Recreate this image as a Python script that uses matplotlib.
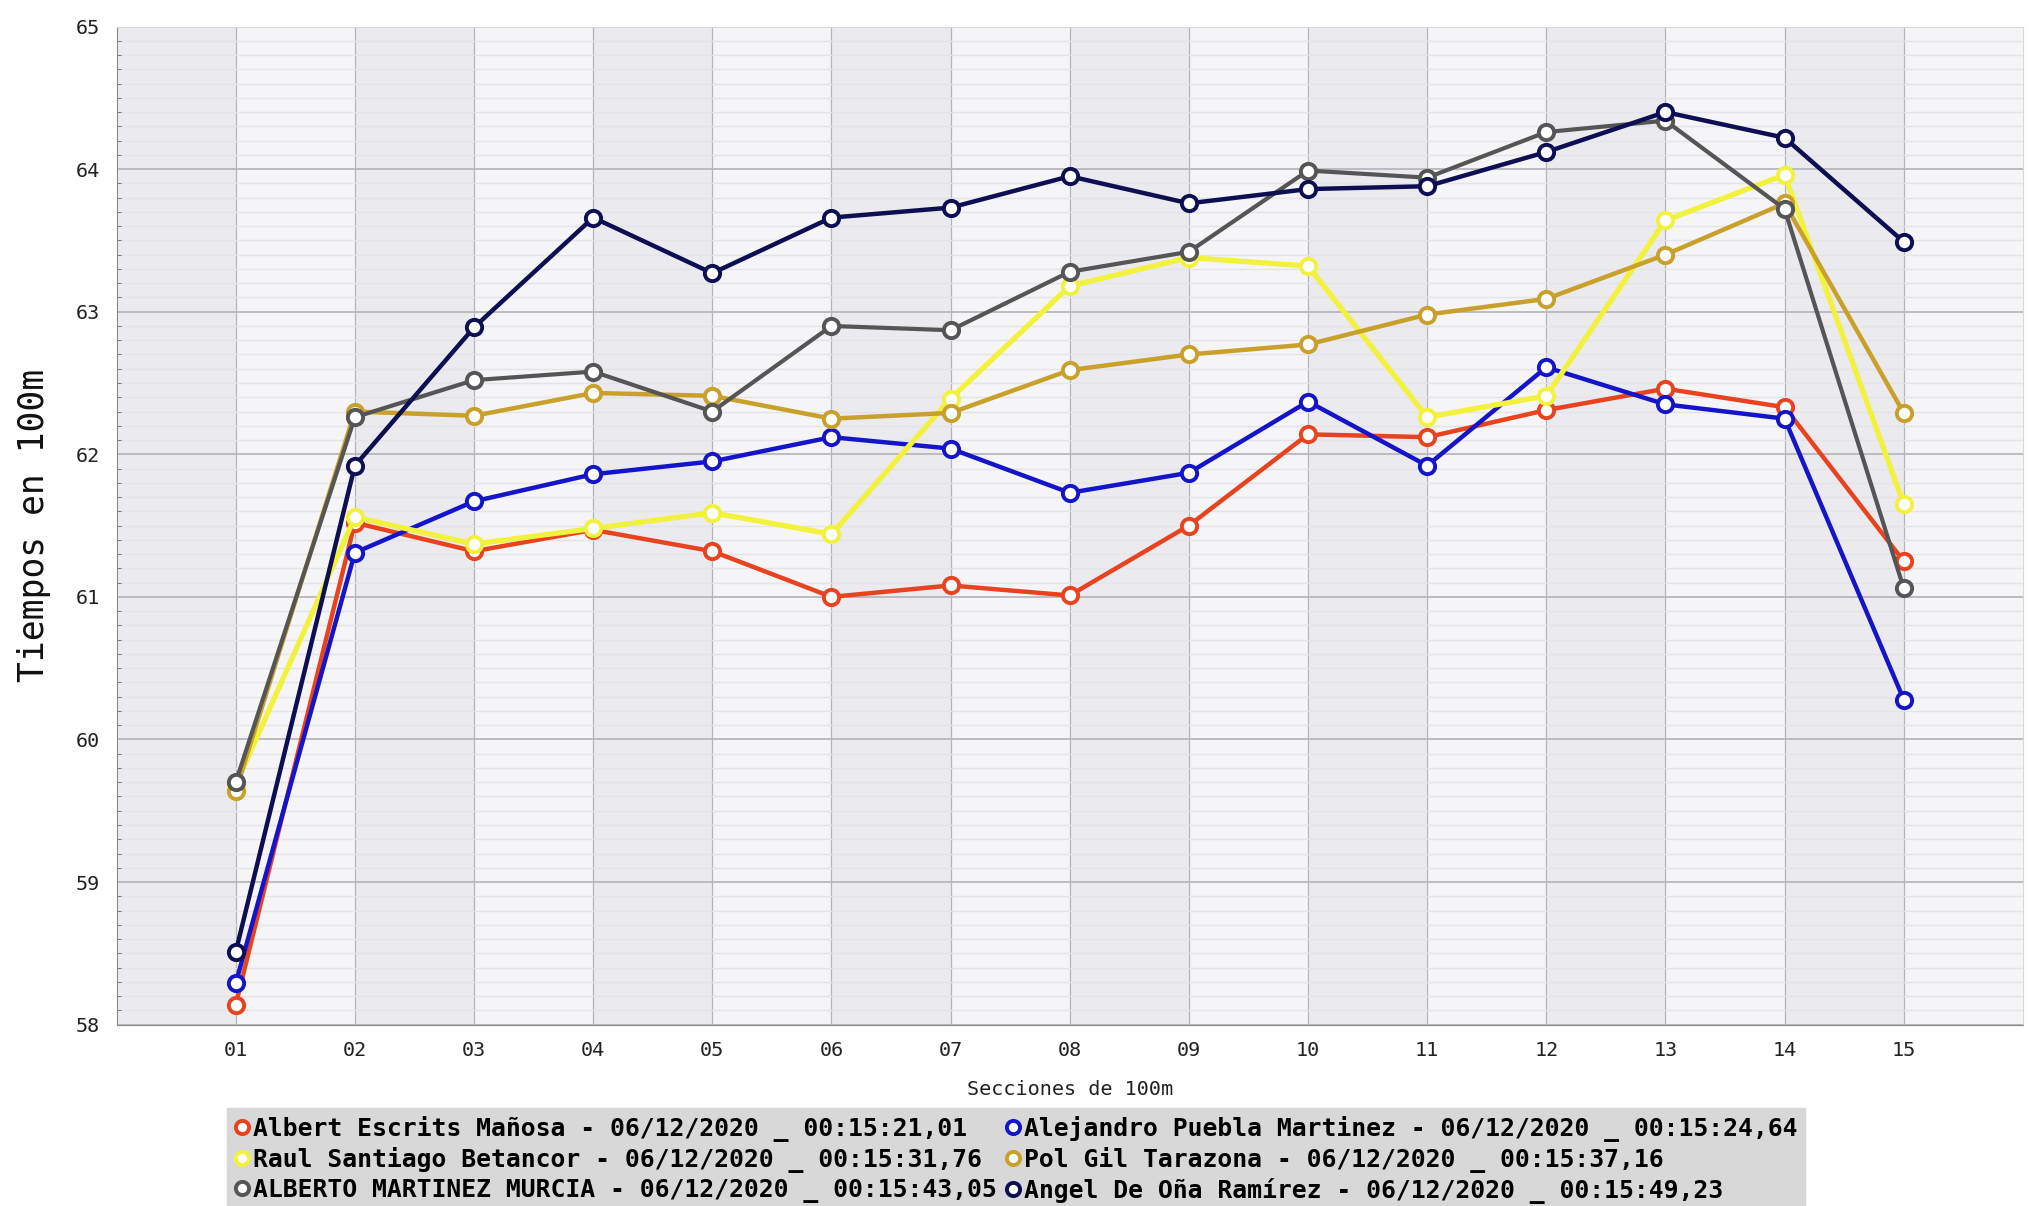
import matplotlib
matplotlib.use("Agg")
import matplotlib.pyplot as plt
from matplotlib.ticker import MultipleLocator
from matplotlib.lines import Line2D
import numpy as np

sections = ["01", "02", "03", "04", "05", "06", "07", "08", "09", "10", "11", "12", "13", "14", "15"]

albert = [58.14, 61.52, 61.32, 61.47, 61.32, 61.00, 61.08, 61.01, 61.50, 62.14, 62.12, 62.31, 62.46, 62.33, 61.25]
alejandro = [58.29, 61.31, 61.67, 61.86, 61.95, 62.12, 62.04, 61.73, 61.87, 62.37, 61.92, 62.61, 62.35, 62.25, 60.28]
raul = [59.68, 61.56, 61.37, 61.48, 61.59, 61.44, 62.39, 63.18, 63.38, 63.32, 62.26, 62.41, 63.64, 63.96, 61.65]
pol = [59.64, 62.30, 62.27, 62.43, 62.41, 62.25, 62.29, 62.59, 62.70, 62.77, 62.98, 63.09, 63.40, 63.76, 62.29]
alberto = [59.70, 62.26, 62.52, 62.58, 62.30, 62.90, 62.87, 63.28, 63.42, 63.99, 63.94, 64.26, 64.34, 63.72, 61.06]
angel = [58.51, 61.92, 62.89, 63.66, 63.27, 63.66, 63.73, 63.95, 63.76, 63.86, 63.88, 64.12, 64.40, 64.22, 63.49]

labels = [
    "Albert Escrits Mañosa - 06/12/2020 _ 00:15:21,01",
    "Alejandro Puebla Martinez - 06/12/2020 _ 00:15:24,64",
    "Raul Santiago Betancor - 06/12/2020 _ 00:15:31,76",
    "Pol Gil Tarazona - 06/12/2020 _ 00:15:37,16",
    "ALBERTO MARTINEZ MURCIA - 06/12/2020 _ 00:15:43,05",
    "Angel De Oña Ramírez - 06/12/2020 _ 00:15:49,23",
]
colors = ["#e8421e", "#1414c8", "#f2f23c", "#c8a02a", "#555555", "#0e0e52"]
widths = [3.2, 3.2, 3.8, 3.2, 3.0, 3.2]
series = [albert, alejandro, raul, pol, alberto, angel]

mono = "DejaVu Sans Mono"

fig = plt.figure(figsize=(20.31, 12.06), dpi=100)
ax = fig.add_axes([0.0574, 0.1504, 0.9386, 0.8276])
ax.set_facecolor("#f5f5f8")

x = np.arange(1, len(sections) + 1)
ax.set_xlim(0, 16)
ax.set_ylim(58, 65)

# alternating vertical bands
for k in range(0, 16, 2):
    ax.axvspan(k, k + 1, color="#eaeaef", zorder=0, lw=0)

# minor horizontal stripes
ax.yaxis.set_minor_locator(MultipleLocator(0.1))
ax.grid(which="minor", axis="y", color="#e4e4e8", lw=1.0, zorder=1)
ax.grid(which="major", axis="y", color="#b8b8bc", lw=1.3, zorder=1)
ax.grid(which="major", axis="x", color="#b4b4ba", lw=0.9, zorder=1)

for i in range(6):
    ax.plot(x, series[i], color=colors[i], lw=widths[i], marker="o", markersize=11,
            markerfacecolor="white", markeredgecolor=colors[i], markeredgewidth=2.8,
            label=labels[i], zorder=3 + i, solid_joinstyle="round")

ax.set_xticks(x)
ax.set_xticklabels(sections, fontfamily=mono, fontsize=14.5)
ax.set_yticks(np.arange(58, 66, 1))
ax.set_yticklabels([str(v) for v in range(58, 66)], fontfamily=mono, fontsize=14.5)
ax.tick_params(axis="both", which="major", length=0, pad=12, colors="#222222")
ax.tick_params(axis="y", which="minor", length=3, color="#666666", direction="in")
ax.tick_params(axis="x", which="minor", length=0)

for s in ["top", "right"]:
    ax.spines[s].set_color("#d8d8d8")
ax.spines["left"].set_color("#888888")
ax.spines["bottom"].set_color("#888888")

ax.set_xlabel("Secciones de 100m", fontfamily=mono, fontsize=14.5, labelpad=14, color="#222222")
ax.set_ylabel("Tiempos en 100m", fontfamily=mono, fontsize=25, labelpad=18, color="#111111")

# row-major order for a 2-column legend
order = [0, 2, 4, 1, 3, 5]
hs = [Line2D([], [], ls="none", marker="o", markersize=9.5, markerfacecolor="white",
             markeredgecolor=colors[i], markeredgewidth=2.8) for i in order]
labs = [labels[i] for i in order]
leg = fig.legend(hs, labs, ncol=2, loc="upper left", bbox_to_anchor=(0.112, 0.081),
                 bbox_transform=fig.transFigure,
                 prop={"family": mono, "weight": "bold", "size": 17.8},
                 frameon=True, fancybox=False, facecolor="#d8d8d8", edgecolor="#d8d8d8",
                 framealpha=1.0, handlelength=0.55, handletextpad=0.2, columnspacing=0.35,
                 labelspacing=0.2, borderpad=0.3, borderaxespad=0)

fig.savefig("out.png", dpi=100)
